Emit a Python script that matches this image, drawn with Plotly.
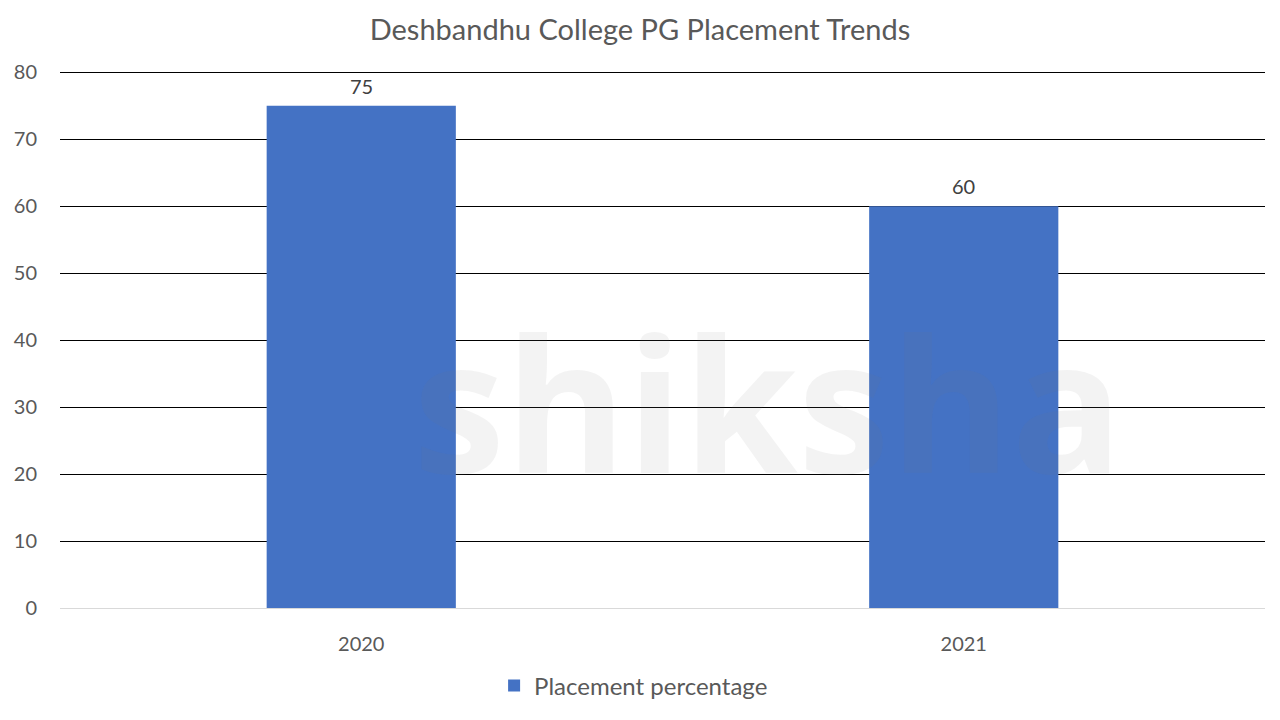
import plotly.graph_objects as go

years = ["2020", "2021"]
placement = [75, 60]
y_ticks = [0, 10, 20, 30, 40, 50, 60, 70, 80]

FONT = "Lato"

fig = go.Figure()
fig.add_trace(go.Bar(
    x=years, y=placement, name="Placement percentage",
    marker=dict(color="#4472C4", line=dict(width=0)),
    cliponaxis=False,
))

# value labels placed at each category index, just above each bar's value
label_annotations = [
    dict(x=i, y=v, xref="x", yref="y", text=str(v), showarrow=False,
         yanchor="bottom", yshift=6,
         font=dict(family=FONT, size=20, color="#404040"))
    for i, v in enumerate(placement)
]

fig.update_layout(
    width=1280, height=720,
    paper_bgcolor="white", plot_bgcolor="white",
    margin=dict(l=60, r=15, t=69, b=112),
    bargap=0.686,
    title=dict(text="Deshbandhu College PG Placement Trends",
               x=0.5, xref="container", xanchor="center",
               y=1 - 30 / 720, yref="container", yanchor="middle",
               font=dict(family=FONT, size=29, color="#595959")),
    showlegend=True,
    legend=dict(orientation="h", xref="container", yref="container",
                x=0.495, xanchor="center", y=1 - 686 / 720, yanchor="middle",
                font=dict(family=FONT, size=24, color="#595959"),
                itemwidth=30),
    xaxis=dict(type="category", range=[-0.5, len(years) - 0.5],
               showgrid=False, showline=True, linecolor="#D9D9D9", linewidth=1,
               ticks="", tickfont=dict(family=FONT, size=20, color="#595959"),
               ticklabelstandoff=18, automargin=False),
    yaxis=dict(range=[0, 80.5], tickvals=y_ticks, showgrid=True, gridcolor="#000000",
               gridwidth=1, zeroline=False, showline=False, ticks="",
               tickfont=dict(family=FONT, size=20, color="#595959"),
               ticklabelstandoff=22, automargin=False),
    annotations=label_annotations + [
        dict(text="<b>shiksha</b>", x=752 / 1280, y=1 - 444 / 720,
             xref="paper", yref="paper", showarrow=False,
             xanchor="center", yanchor="middle",
             font=dict(family="Open Sans", size=185, color="rgba(120,120,120,0.09)"))],
)

fig.write_html("out.html", config={"displayModeBar": False},
               post_script="document.body.style.margin='0';document.body.style.padding='0';")
